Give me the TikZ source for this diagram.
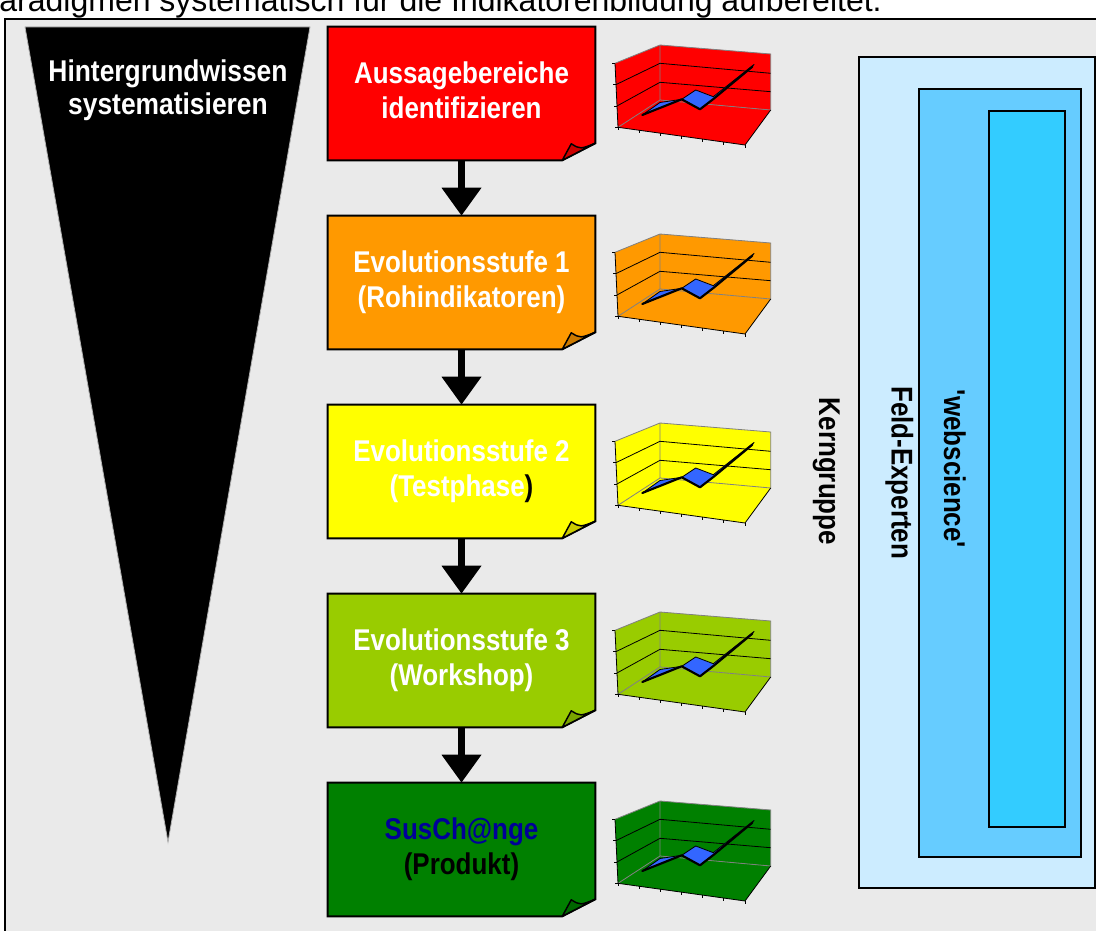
\documentclass[tikz,border=0pt]{standalone}
\usepackage{fontspec}
\usetikzlibrary{arrows.meta,calc}
\newfontfamily\af{Liberation Sans}
\newfontfamily\afbox[FakeStretch=0.865]{Liberation Sans}
\newfontfamily\affun[FakeStretch=0.88]{Liberation Sans}
\definecolor{bg}{HTML}{EAEAEA}
\definecolor{cred}{HTML}{FF0000}\definecolor{dred}{HTML}{CC0000}
\definecolor{corange}{HTML}{FF9900}\definecolor{dorange}{HTML}{CC7A00}
\definecolor{cyellow}{HTML}{FFFF00}\definecolor{dyellow}{HTML}{CCCC00}
\definecolor{cyg}{HTML}{99CC00}\definecolor{dyg}{HTML}{7AA300}
\definecolor{cgreen}{HTML}{008000}\definecolor{dgreen}{HTML}{006600}
\definecolor{ribbon}{HTML}{3366FF}
\definecolor{navy}{HTML}{000099}
\definecolor{bluea}{HTML}{CCECFF}\definecolor{blueb}{HTML}{66CCFF}\definecolor{bluec}{HTML}{33CCFF}
\newcommand{\stepboxdraw}[3]{%
  \path[fill=#2,draw=black,line width=1.5pt,line join=miter] (#1.north west) -- (#1.north east) -- ($(#1.south east)+(0,-17)$) -- ($(#1.south east)+(-33,0)$) -- (#1.south west) -- cycle;
  \path[fill=#3,draw=black,line width=1.1pt,line join=round] ($(#1.south east)+(-33,0)$) -- ($(#1.south east)+(-24,-16.5)$) .. controls ($(#1.south east)+(-15,-11)$) .. ($(#1.south east)+(0,-17)$) -- cycle;}
\newcommand{\mychart}[2]{%
  \begin{scope}[shift={(0,#1)}]
    \coordinate (cA) at (615,63.3);
    \coordinate (cB) at (660,45);
    \coordinate (cC) at (660,100);
    \coordinate (cD) at (618,127.3);
    \coordinate (cE) at (770.7,54);
    \coordinate (cF) at (770.7,110);
    \coordinate (cG) at (745,145);
    \fill[#2] (cA) -- (cB) -- (cC) -- (cD) -- cycle;
    \fill[#2] (cB) -- (cE) -- (cF) -- (cC) -- cycle;
    \fill[#2] (cD) -- (cC) -- (cF) -- (cG) -- cycle;
    \draw[chgray] (cA) -- (cB) -- (cE) -- (cF) -- (cC) -- (cB);
    \draw[chgray] (cC) -- (cD);
    \draw[chline] ($(cA)!0.333!(cD)$) -- (660,63.3) -- (770.7,73.3);
    \draw[chline] ($(cA)!0.667!(cD)$) -- (660,82.3) -- (770.7,91.7);
    \draw[chline] (cA) -- (cD) -- (cG) -- (cF);
    \foreach \t in {0,0.333,0.667,1} \draw[chline] ($(cA)!\t!(cD)$) -- ++(-3,0);
    \foreach \t in {0,0.1667,0.3333,0.5,0.6667,0.8333,1} \draw[chline] ($(cD)!\t!(cG)$) -- ++(0,2.5);
    \path[fill=ribbon,draw=black,line width=0.6pt,line join=round] (642.3,115) -- (660,102.5) -- (681.7,99.3) -- (695.7,90) -- (713.3,96.7) -- (754,64.5) -- (752.3,66.7) -- (714,98.5) -- (700,109.3) -- (681.7,99.3) -- cycle;
    \draw[black,line width=1.6pt,line cap=round,line join=round] (642.3,115) -- (681.7,99.3) -- (700,109.3) -- (714,98.5) -- (752.3,66.7);
  \end{scope}}
\tikzset{
  boxn/.style={inner sep=0pt,minimum width=200.25pt,minimum height=99.75pt},
  boxtxt/.style={anchor=base,inner sep=0pt,font=\afbox\bfseries\fontsize{22.5}{26}\selectfont},
  funtxt/.style={anchor=base,inner sep=0pt,text=white,font=\affun\bfseries\fontsize{22.5}{26}\selectfont},
  vtxt/.style={anchor=base,rotate=-90,inner sep=0pt,font=\afbox\bfseries\fontsize{22.5}{26}\selectfont},
  flowarrow/.style={line width=5.25pt,-{Triangle[width=28.5pt,length=21pt]}},
  chgray/.style={draw=gray,line width=0.6pt},
  chline/.style={draw=black,line width=0.6pt},
  grp/.style={draw=black,line width=1.5pt}
}
\begin{document}
\begin{tikzpicture}[x=0.75pt,y=-0.75pt]
\useasboundingbox (0,0) rectangle (1096,931);
\clip (0,0) rectangle (1096,931);
\fill[white] (0,0) rectangle (1096,931);
% caption (cut off at top, as in the reference)
\node[anchor=base east,inner sep=0pt,font=\af\fontsize{24}{28}\selectfont] (caption) at (882,12) {Paradigmen systematisch für die Indikatorenbildung aufbereitet.};
% frame
\draw[fill=bg,line width=1.5pt] (5,19) rectangle (1120,960);
% funnel
\path[fill=black,draw=gray!60,line width=0.6pt] (25,27) -- (310,27) -- (168,842) -- cycle;
\node[funtxt] (fun1) at (168,81.7) {Hintergrundwissen};
\node[funtxt] (fun2) at (168,114) {systematisieren};
% boxes
\node[boxn] (b1) at (461.5,93.5) {};
\node[boxn] (b2) at (461.5,282.5) {};
\node[boxn] (b3) at (461.5,471.5) {};
\node[boxn] (b4) at (461.5,660.5) {};
\node[boxn] (b5) at (461.5,849.5) {};
\stepboxdraw{b1}{cred}{dred}
\stepboxdraw{b2}{corange}{dorange}
\stepboxdraw{b3}{cyellow}{dyellow}
\stepboxdraw{b4}{cyg}{dyg}
\stepboxdraw{b5}{cgreen}{dgreen}
\node[boxtxt,text=white] (b1a) at ($(b1.north)+(0,57)$) {Aussagebereiche};
\node[boxtxt,text=white] (b1b) at ($(b1.north)+(0,92)$) {identifizieren};
\node[boxtxt,text=white] (b2a) at ($(b2.north)+(0,57)$) {Evolutionsstufe 1};
\node[boxtxt,text=white] (b2b) at ($(b2.north)+(0,92)$) {(Rohindikatoren)};
\node[boxtxt,text=white] (b3a) at ($(b3.north)+(0,57)$) {Evolutionsstufe 2};
\node[boxtxt,text=white] (b3b) at ($(b3.north)+(0,92)$) {(Testphase\textcolor{black}{)}};
\node[boxtxt,text=white] (b4a) at ($(b4.north)+(0,57)$) {Evolutionsstufe 3};
\node[boxtxt,text=white] (b4b) at ($(b4.north)+(0,92)$) {(Workshop)};
\node[boxtxt,text=navy] (b5a) at ($(b5.north)+(0,57)$) {SusCh@nge};
\node[boxtxt,text=black] (b5b) at ($(b5.north)+(0,92)$) {(Produkt)};
% arrows
\draw[flowarrow] (b1.south) -- (b2.north);
\draw[flowarrow] (b2.south) -- (b3.north);
\draw[flowarrow] (b3.south) -- (b4.north);
\draw[flowarrow] (b4.south) -- (b5.north);
% charts
\mychart{0}{cred}
\mychart{189}{corange}
\mychart{378}{cyellow}
\mychart{567}{cyg}
\mychart{756}{cgreen}
% groups
\path[grp,fill=bluea] (858.5,57.5) rectangle (1095,888);
\path[grp,fill=blueb] (919.3,89) rectangle (1081,857.3);
\path[grp,fill=bluec] (988.7,110.7) rectangle (1065.3,827.3);
\node[vtxt] (kern) at (819,471.5) {Kerngruppe};
\node[vtxt] (feld) at (891.7,472.7) {Feld-Experten};
\node[vtxt] (web) at (944,469) {'webscience'};
\end{tikzpicture}
\end{document}
